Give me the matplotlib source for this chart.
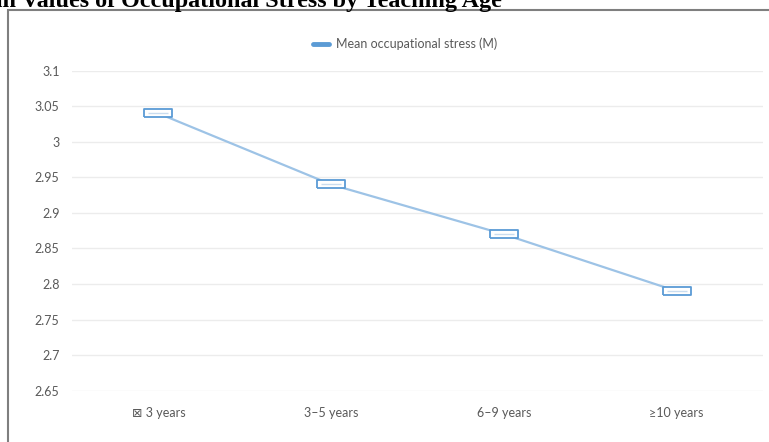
import matplotlib.pyplot as plt
from matplotlib.lines import Line2D
from matplotlib.patches import Rectangle

# data
categories = ['\u22a0 3 years', '3\u20135 years', '6\u20139 years', '\u226510 years']
mean_stress = [3.04, 2.94, 2.87, 2.79]
y_ticks = [2.65, 2.7, 2.75, 2.8, 2.85, 2.9, 2.95, 3.0, 3.05, 3.1]
y_labels = ['2.65', '2.7', '2.75', '2.8', '2.85', '2.9', '2.95', '3', '3.05', '3.1']
series_name = 'Mean occupational stress (M)'
title = 'Mean Values of Occupational Stress by Teaching Age'

W, H = 769, 442
plt.rcParams['font.family'] = ['Lato', 'DejaVu Sans']
fig = plt.figure(figsize=(W / 100, H / 100), dpi=100)

# outer chart border (cut at right/bottom like the screenshot)
fig.patches.append(Rectangle((8 / W, -0.1), 1.2, 1 - 10 / H + 0.1, transform=fig.transFigure,
                             fill=False, ec='#7f7f7f', lw=1.5))

ax = fig.add_axes([72 / W, (H - 390.7) / H, (763 - 72) / W, (390.7 - 70.7) / H])
x = list(range(len(categories)))

ax.plot(x, mean_stress, color='#9dc3e6', lw=1.6, zorder=3)
box = [(-3.5, -1), (3.5, -1), (3.5, 1), (-3.5, 1), (-3.5, -1)]
ax.plot(x, mean_stress, ls='none', marker=box, markersize=20.5, mfc='white',
        mec='#5b9bd5', mew=1.3, zorder=4)
ax.plot(x, mean_stress, ls='none', marker='_', markersize=14, mec='#c9dcef',
        mew=1.0, zorder=5)

ax.set_xlim(-0.5, len(categories) - 0.5)
ax.set_ylim(2.65, 3.1)
ax.set_yticks(y_ticks)
ax.set_yticklabels(y_labels)
ax.set_xticks(x)
ax.set_xticklabels(categories)
ax.tick_params(length=0, labelsize=9, labelcolor='#595959')
ax.tick_params(axis='y', pad=9)
ax.tick_params(axis='x', pad=12)
for s in ax.spines.values():
    s.set_visible(False)
ax.grid(axis='y', color='#ececec', lw=1.0)
ax.set_axisbelow(True)

handle = Line2D([0], [0], color='#5b9bd5', lw=3.5, solid_capstyle='round')
fig.legend([handle], [series_name], loc='center', bbox_to_anchor=(405 / W, 1 - 44 / H),
           frameon=False, fontsize=9, labelcolor='#595959', handlelength=1.3,
           handletextpad=0.6)

# title is partly outside the screenshot in the reference
fig.text(502 / W, 1 - 7 / H, title, ha='right', va='baseline', fontsize=17.4,
         fontweight='bold', family='Liberation Serif')

fig.savefig('out.png', dpi=100)
